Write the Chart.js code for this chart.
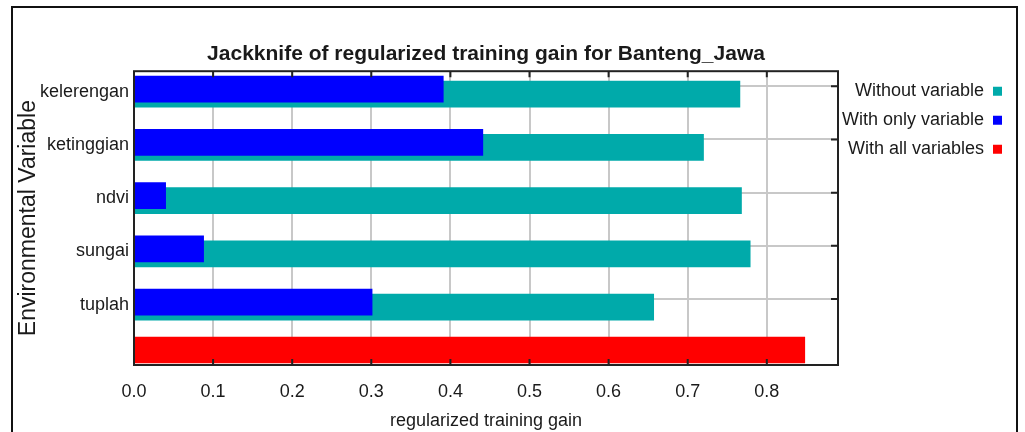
<!DOCTYPE html>
<html>
<head>
<meta charset="utf-8">
<script src="https://cdn.jsdelivr.net/npm/chart.js@4.4.1/dist/chart.umd.min.js"></script>
<style>
  body { margin: 0; background: #fff; }
  #frame { position: absolute; left: 11px; top: 6px; width: 1003px; height: 440px; border: 2px solid #111; }
  canvas { position: absolute; left: 0; top: 0; }
</style>
</head>
<body>
<div id="frame"></div>
<canvas id="jackknife" width="1025" height="432"></canvas>
<script>
// Jackknife values
var variables = ['kelerengan', 'ketinggian', 'ndvi', 'sungai', 'tuplah'];
var withoutVariable = [0.766, 0.720, 0.768, 0.779, 0.657];
var withOnlyVariable = [0.391, 0.441, 0.040, 0.088, 0.301];
var withAllVariables = [0.848];
var legendOrder = ['Without variable', 'With only variable', 'With all variables'];
var gainMax = 0.89;

var fontFamily = "'Liberation Sans', Arial, sans-serif";
var textColor = '#1a1a1a';
var gridColor = '#c8c8c8';

// The frame round the plot, with short ticks pointing inwards
var framePlugin = {
    id: 'frame',
    afterDatasetsDraw(chart) {
        var ctx = chart.ctx, a = chart.chartArea;
        var xs = chart.scales.x, ys = chart.scales.yGrid;
        ctx.save();
        ctx.strokeStyle = '#222';
        ctx.lineWidth = 2;
        ctx.strokeRect(a.left, a.top, a.right - a.left, a.bottom - a.top);
        ctx.beginPath();
        for (let i = 0; i < xs.ticks.length; i++) {
            let px = xs.getPixelForTick(i);
            ctx.moveTo(px, a.top); ctx.lineTo(px, a.top + 6);
            ctx.moveTo(px, a.bottom); ctx.lineTo(px, a.bottom - 6);
        }
        for (let i = 0; i < ys.ticks.length; i++) {
            if (ys.ticks[i].value >= variables.length) continue;
            let py = ys.getPixelForTick(i);
            ctx.moveTo(a.right, py); ctx.lineTo(a.right - 7, py);
        }
        ctx.stroke();
        ctx.restore();
    }
};

var rows = variables.map((v, i) => i);

// every bar is ungrouped: each series sits on its own hidden row axis
var barStyle = { grouped: false, barThickness: 26, maxBarThickness: 26, categoryPercentage: 1, barPercentage: 1 };

// hidden row axis, shifted by a few pixels so the blue bar sits a little above the teal one
function rowAxis(min, max) {
    return { type: 'linear', display: false, reverse: true, offset: false, min: min, max: max,
             ticks: { stepSize: 1, includeBounds: false }, grid: { display: false, offset: false } };
}

new Chart(document.getElementById('jackknife'), {
    type: 'bar',
    data: {
        datasets: [
            Object.assign({
                label: 'With only variable',
                data: rows.map(i => ({x: withOnlyVariable[i], y: i})),
                backgroundColor: '#0000ff',
                yAxisID: 'yBlue' }, barStyle),
            Object.assign({
                label: 'Without variable',
                data: rows.map(i => ({x: withoutVariable[i], y: i})),
                backgroundColor: '#00aaaa',
                yAxisID: 'yTeal' }, barStyle),
            Object.assign({
                label: 'With all variables',
                data: withAllVariables.map(v => ({x: v, y: 0})),
                backgroundColor: '#ff0000',
                yAxisID: 'yAll' }, barStyle)
        ]
    },
    options: {
        indexAxis: 'y',
        responsive: false,
        animation: false,
        layout: { padding: { left: 0, top: 0, right: 12, bottom: 0 } },
        scales: {
            x: {
                type: 'linear',
                min: 0,
                max: gainMax,
                ticks: {
                    stepSize: 0.1,
                    includeBounds: false,
                    padding: 16,
                    color: textColor,
                    font: { family: fontFamily, size: 18 },
                    callback: v => v.toFixed(1)
                },
                grid: { color: gridColor, lineWidth: 2, drawTicks: false },
                border: { display: false },
                title: {
                    display: true,
                    text: 'regularized training gain',
                    color: textColor,
                    font: { family: fontFamily, size: 18 },
                    padding: { top: 0, bottom: 0 }
                },
                afterFit: s => { s.height = 67; }
            },
            y: {
                type: 'linear',
                position: 'left',
                reverse: true,
                offset: false,
                min: -0.385,
                max: 5.136,
                ticks: {
                    stepSize: 1,
                    includeBounds: false,
                    autoSkip: false,
                    padding: 5,
                    color: textColor,
                    font: { family: fontFamily, size: 18 },
                    callback: v => variables[Math.round(v)]
                },
                grid: { display: false, drawTicks: false, offset: false },
                border: { display: false },
                title: {
                    display: true,
                    text: 'Environmental Variable',
                    color: textColor,
                    font: { family: fontFamily, size: 23 },
                    padding: { top: 15, bottom: 0 }
                },
                afterFit: s => { s.width = 134; }
            },
            yBlue: rowAxis(-0.338, 5.183),
            yTeal: rowAxis(-0.432, 5.089),
            yAll: rowAxis(-0.949, 0.051),
            yGrid: {
                type: 'linear',
                position: 'right',
                reverse: true,
                offset: false,
                min: -0.282,
                max: 5.239,
                ticks: { display: false, stepSize: 1, includeBounds: false },
                grid: {
                    offset: false,
                    drawTicks: false,
                    lineWidth: 2,
                    color: c => (c.tick && c.tick.value < variables.length) ? gridColor : 'rgba(0,0,0,0)'
                },
                border: { display: false },
                afterFit: s => { s.width = 0; }
            }
        },
        plugins: {
            title: {
                display: true,
                text: 'Jackknife of regularized training gain for Banteng_Jawa',
                fullSize: false,
                color: textColor,
                font: { family: fontFamily, size: 21, weight: 'bold' },
                padding: { top: 42, bottom: 4 }
            },
            legend: {
                position: 'right',
                align: 'start',
                fullSize: false,
                rtl: true,
                maxWidth: 175,
                labels: {
                    boxWidth: 9,
                    boxHeight: 9,
                    padding: 11,
                    color: textColor,
                    font: { family: fontFamily, size: 18 },
                    sort: (a, b) => legendOrder.indexOf(a.text) - legendOrder.indexOf(b.text)
                }
            },
            tooltip: { enabled: false }
        }
    },
    plugins: [framePlugin]
});
</script>
</body>
</html>
